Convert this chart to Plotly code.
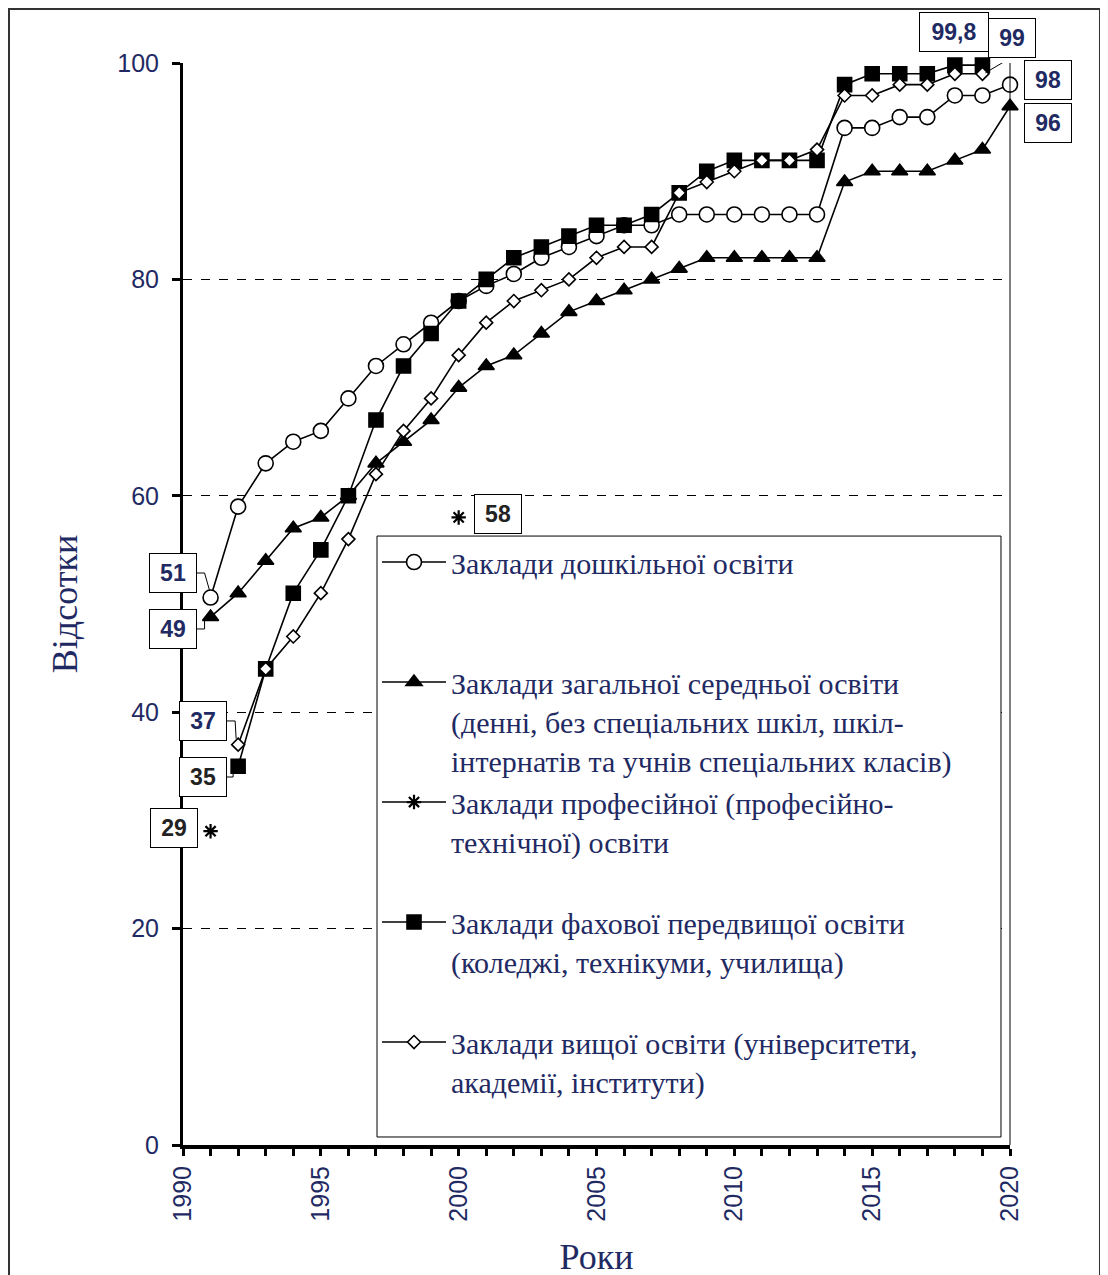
import plotly.graph_objects as go

years = list(range(1991, 2021))

preschool = [50.6, 59, 63, 65, 66, 69, 72, 74, 76, 78, 79.4, 80.5, 82, 83, 84, 85, 85, 86, 86, 86,
             86, 86, 86, 94, 94, 95, 95, 97, 97, 98]
general = [48.8, 51, 54, 57, 58, 60, 63, 65, 67, 70, 72, 73, 75, 77, 78, 79, 80, 81, 82, 82,
           82, 82, 82, 89, 90, 90, 90, 91, 92, 96]
professional = [29, None, None, None, None, None, None, None, None, 58] + [None] * 20
vocational = [None, 35, 44, 51, 55, 60, 67, 72, 75, 78, 80, 82, 83, 84, 85, 85, 86, 88, 90, 91,
              91, 91, 91, 98, 99, 99, 99, 99.8, 99.8, None]
higher = [None, 37, 44, 47, 51, 56, 62, 66, 69, 73, 76, 78, 79, 80, 82, 83, 83, 88, 89, 90,
          91, 91, 92, 97, 97, 98, 98, 99, 99, None]

names = [
    "Заклади дошкільної освіти",
    "Заклади загальної середньої освіти<br>(денні, без спеціальних шкіл, шкіл-<br>інтернатів та учнів спеціальних класів)",
    "Заклади професійної (професійно-<br>технічної) освіти",
    "Заклади фахової передвищої освіти<br>(коледжі, технікуми, училища)",
    "Заклади вищої освіти (університети,<br>академії, інститути)",
]
pad = ["<br> <br> ", "", "<br> ", "<br> ", ""]

# labels: (text, x, y, colour)
labels = [
    ("51", 1991, 50.6, "navy"), ("49", 1991, 48.8, "navy"), ("37", 1992, 37, "navy"),
    ("35", 1992, 35, "dark"), ("29", 1991, 29, "dark"), ("58", 2000, 58, "dark"),
    ("99,8", 2019, 99.8, "navy"), ("99", 2019, 99, "navy"), ("98", 2020, 98, "navy"),
    ("96", 2020, 96, "navy"),
]

NAVY = "#1f2a63"
DARK = "#222222"
SERIF = "Liberation Serif, Times New Roman, serif"
SANS = "Liberation Sans, Arial, sans-serif"

fig = go.Figure()
series = [preschool, general, professional, vocational, higher]
symbols = ["circle", "triangle-up", "asterisk-open", "square", "diamond"]
mcolors = ["white", "black", "black", "black", "white"]
msizes = [15, 14, 12, 14, 10]
for s, n, p, sym, mc, ms in zip(series, names, pad, symbols, mcolors, msizes):
    fig.add_trace(go.Scatter(
        x=years, y=s, name=n + p, mode="lines+markers", connectgaps=False,
        line=dict(color="black", width=1.6),
        marker=dict(symbol=sym, size=ms, color=mc,
                    line=dict(color="black", width=2.2 if sym == "asterisk-open" else 1.6)),
        cliponaxis=False,
    ))

# label positions (pixel offsets from point) and leader paths
shifts = {
    "51": (-37.6, 24.5, "M-15,24.5 L-6,24.5 L-1,7"),
    "49": (-37.6, -12, "M-15,-12 L-6,-12 L-6,-1"),
    "37": (-35, 23.7, "M-12,23.7 L-3,23.7 L-2,6"),
    "35": (-35, -10.7, "M-12,-10.7 L-5,-10.7 L-5,-6"),
    "29": (-36.6, 3, None),
    "58": (39.3, 3.4, None),
    "99,8": (-28.4, 33.2, "M-29,13 L-6,2"),
    "99": (29.6, 36.3, "M30,17 L3,1"),
    "98": (38, 4.6, "M15,4 L4,4"),
    "96": (38, -17.2, "M15,-17 L3,-17 L3,-8"),
}
for t, x, y, c in labels:
    dx, dy, path = shifts[t]
    fig.add_annotation(
        x=x, y=y, xref="x", yref="y", text="<b>%s</b>" % t, showarrow=False,
        xshift=dx, yshift=dy, font=dict(family=SANS, size=23, color=NAVY if c == "navy" else DARK),
        bgcolor="white", bordercolor="black", borderwidth=1, borderpad=3,
        width=62 if len(t) > 2 else 40, height=32,
    )
    if path:
        fig.add_shape(type="path", xref="x", yref="y", xsizemode="pixel", ysizemode="pixel",
                      xanchor=x, yanchor=y, path=path, line=dict(color="black", width=1))

# right border of plot area
fig.add_shape(type="line", xref="x domain", yref="y", x0=1, x1=1, y0=0, y1=100,
              line=dict(color="black", width=1))
# legend box
fig.add_shape(type="rect", xref="paper", yref="paper", x0=0.2346, x1=0.9891, y0=0.0074, y1=0.5628,
              line=dict(color="black", width=1), fillcolor="white", layer="above")
# outer frame
fig.add_shape(type="rect", xref="paper", yref="paper", x0=-0.2104, x1=1.1088, y0=-0.3, y1=1.0499,
              line=dict(color="#333333", width=2), layer="below")

fig.update_layout(
    width=1108, height=1275,
    margin=dict(l=175, r=106, t=55, b=138),
    paper_bgcolor="white", plot_bgcolor="white",
    showlegend=True,
    legend=dict(
        x=0.2346, y=0.5628, xanchor="left", yanchor="top",
        bgcolor="rgba(0,0,0,0)", borderwidth=0,
        font=dict(family=SERIF, size=30, color=NAVY),
        valign="top", tracegroupgap=0, itemwidth=64,
    ),
    xaxis=dict(
        range=[1990, 2020], dtick=5, tick0=1990, ticks="outside", ticklen=7, tickwidth=3,
        tickcolor="black", showline=True, linecolor="black", linewidth=4, showgrid=False,
        zeroline=False, tickangle=-90,
        tickfont=dict(family=SANS, size=25, color=NAVY),
        minor=dict(dtick=1, ticks="outside", ticklen=7, tickwidth=3, tickcolor="black", showgrid=False),
        title=dict(text="Роки", font=dict(family=SERIF, size=36, color=NAVY), standoff=24),
    ),
    yaxis=dict(
        range=[0, 100], dtick=20, ticks="outside", ticklen=8, tickwidth=3, tickcolor="black",
        showline=True, linecolor="black", linewidth=3, zeroline=False,
        showgrid=True, gridcolor="black", gridwidth=1, griddash="dash",
        tickfont=dict(family=SANS, size=25, color=NAVY), ticklabelstandoff=8,
        title=dict(text="Відсотки", font=dict(family=SERIF, size=36, color=NAVY), standoff=29),
    ),
)

fig.write_html("out.html")
